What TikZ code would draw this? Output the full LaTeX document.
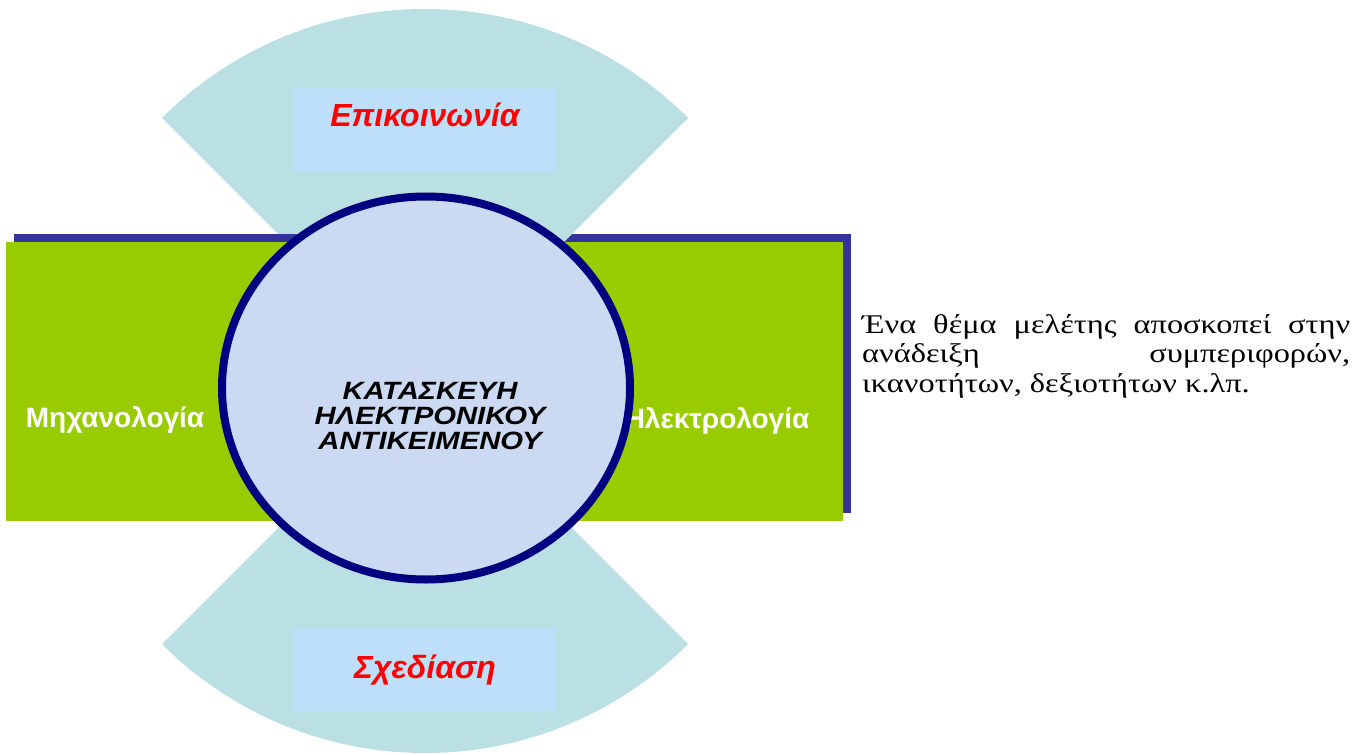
\documentclass[tikz,border=0pt]{standalone}
\usepackage{fontspec}
\setmainfont{Liberation Serif}
\newfontfamily\arialfont{Liberation Sans}
\newfontfamily\widearial[FakeStretch=1.17]{Liberation Sans}
\newfontfamily\widetimes[FakeStretch=1.2]{Liberation Serif}
\definecolor{fancyan}{RGB}{186,224,227}
\definecolor{labelblue}{RGB}{190,223,250}
\definecolor{boxgreen}{RGB}{153,204,0}
\definecolor{shadowblue}{RGB}{51,51,153}
\definecolor{ringnavy}{RGB}{0,0,128}
\definecolor{discfill}{RGB}{203,217,243}
\begin{document}
\begin{tikzpicture}[x=1pt,y=-1pt,
	fan/.style={fill=fancyan},
	labelbox/.style={fill=labelblue},
	greenbox/.style={fill=boxgreen},
	boxshadow/.style={fill=shadowblue},
	fantext/.style={text=red,font=\arialfont\bfseries\itshape\fontsize{32}{36}\selectfont},
	boxtext/.style={text=white,font=\arialfont\bfseries\fontsize{28}{32}\selectfont}]
	\useasboundingbox (0,0) rectangle (1367,754);
	\coordinate (hub) at (425,381);
	% right box
	\fill[boxshadow] (548,234) rectangle (851,513);
	\fill[greenbox] (540,242) rectangle (843,521);
	% fans
	\fill[fan] (hub) -- ++(-135:372) arc[start angle=-135,end angle=-45,radius=372] -- cycle;
	\fill[fan] (hub) -- ++(135:372) arc[start angle=135,end angle=45,radius=372] -- cycle;
	\fill[labelbox] (293,88) rectangle (556,172);
	\fill[labelbox] (293,628) rectangle (556,712);
	\node[fantext] (comm) at (425,115) {Επικοινωνία};
	\node[fantext] (design) at (425,670) {Σχεδίαση};
	% left box
	\fill[boxshadow] (14,234) rectangle (328,513);
	\fill[greenbox] (6,242) rectangle (320,521);
	\node[boxtext] (mech) at (115,420) {Μηχανολογία};
	\node[boxtext] (elec) at (717,421) {Ηλεκτρολογία};
	% disc
	\draw[line width=8pt,draw=ringnavy,fill=discfill] (426,388) ellipse[x radius=204,y radius=191.5];
	\node[align=center,font={\widearial\bfseries\itshape\fontsize{25}{25}\selectfont}] (core) at (430,416) {ΚΑΤΑΣΚΕΥΗ\\ΗΛΕΚΤΡΟΝΙΚΟΥ\\ΑΝΤΙΚΕΙΜΕΝΟΥ};
	%\draw (hub) circle (2pt);
	\node[anchor=north west,inner sep=0pt,text width=488pt,align=justify,
		font={\widetimes\fontsize{27}{29.5}\selectfont}] (note) at (862,314)
		{\hyphenpenalty=10000\tolerance=10000\hbadness=10000
		Ένα θέμα μελέτης αποσκοπεί στην\linebreak ανάδειξη συμπεριφορών,\linebreak ικανοτήτων, δεξιοτήτων κ.λπ.};
\end{tikzpicture}
\end{document}
